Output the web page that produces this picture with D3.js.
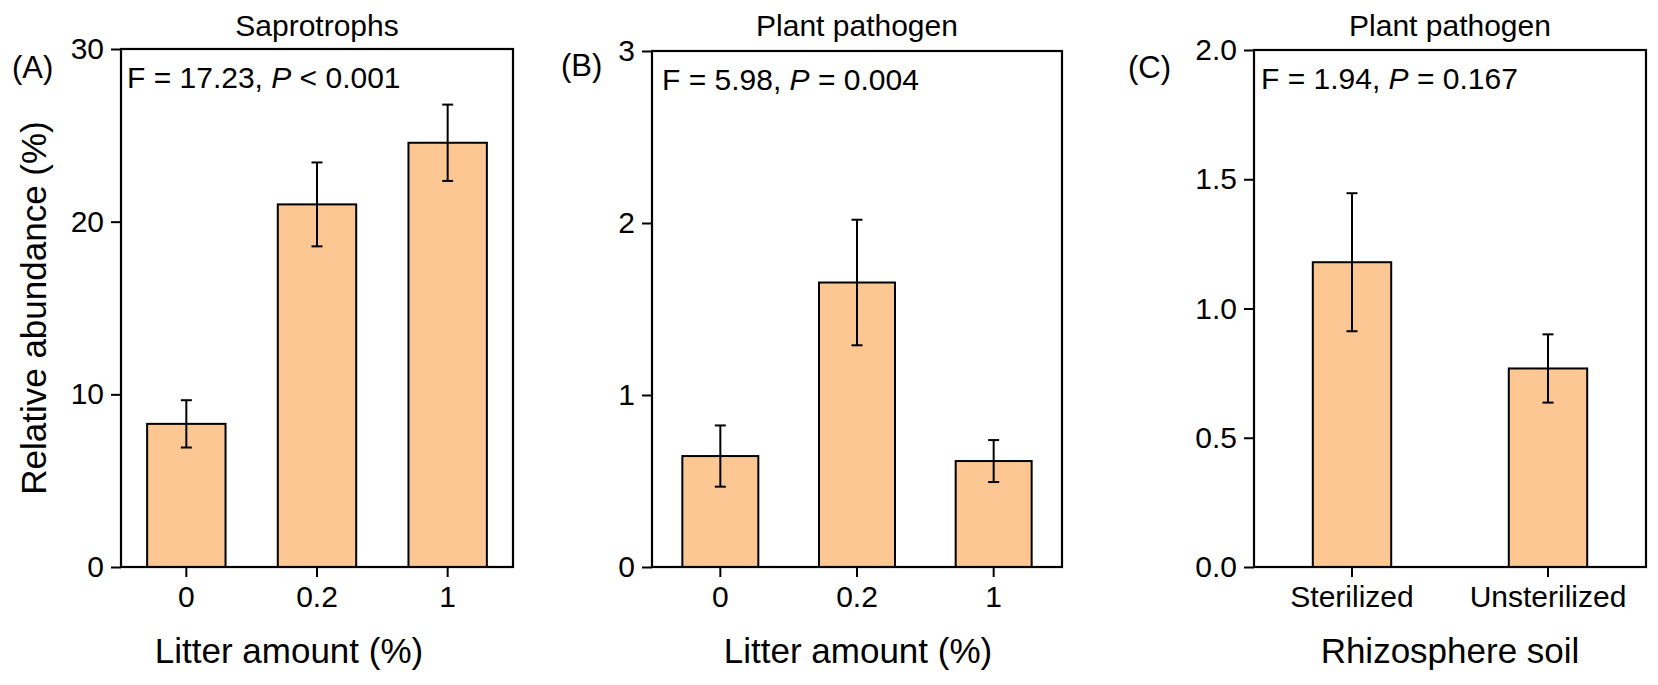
<!DOCTYPE html>
<html>
<head>
<meta charset="utf-8">
<script src="https://cdn.jsdelivr.net/npm/d3@7"></script>
<style>
  body { margin: 0; background: #fff; }
  svg text { font-family: Arial, "Liberation Sans", Helvetica, sans-serif; fill: #000; }
</style>
</head>
<body>
<svg id="chart" width="1658" height="685"></svg>
<script>
// Data (means and standard errors)
const litterLevels = ["0", "0.2", "1"];
const soilTypes = ["Sterilized", "Unsterilized"];

const saproMean = [8.29, 21.0, 24.57];
const saproSE = [1.37, 2.43, 2.21];

const pathLitterMean = [0.645, 1.654, 0.616];
const pathLitterSE = [0.178, 0.365, 0.122];

const pathSoilMean = [1.179, 0.768];
const pathSoilSE = [0.267, 0.132];

const saproTicks = [0, 10, 20, 30];
const pathLitterTicks = [0, 1, 2, 3];
const pathSoilTicks = [0, 0.5, 1, 1.5, 2];

const svg = d3.select("#chart");
const barFill = "#fdc793";

function drawPanel(p) {
  const x = d3.scaleBand()
    .domain(p.cats)
    .range([p.left, p.right])
    .paddingInner(p.pad)
    .paddingOuter(p.pad / 2);

  const y = d3.scaleLinear()
    .domain([0, p.ymax])
    .range([p.bottom, p.top]);

  const rows = p.cats.map((c, i) => ({ cat: c, mean: p.mean[i], se: p.se[i] }));
  const cx = d => x(d.cat) + x.bandwidth() / 2;
  const g = svg.append("g");

  // bars
  g.selectAll(".bar")
    .data(rows)
    .join("rect")
    .attr("class", "bar")
    .attr("x", d => x(d.cat))
    .attr("y", d => y(d.mean))
    .attr("width", x.bandwidth())
    .attr("height", d => y(0) - y(d.mean))
    .attr("fill", barFill)
    .attr("stroke", "#000")
    .attr("stroke-width", 2);

  // error bars
  g.selectAll(".err")
    .data(rows)
    .join("line")
    .attr("class", "err")
    .attr("x1", cx).attr("x2", cx)
    .attr("y1", d => y(d.mean + d.se))
    .attr("y2", d => y(d.mean - d.se))
    .attr("stroke", "#000")
    .attr("stroke-width", 2);

  const caps = rows.flatMap(d => [
    { d, v: d.mean + d.se },
    { d, v: d.mean - d.se }
  ]);
  g.selectAll(".cap")
    .data(caps)
    .join("line")
    .attr("class", "cap")
    .attr("x1", c => cx(c.d) - 5.5)
    .attr("x2", c => cx(c.d) + 5.5)
    .attr("y1", c => y(c.v))
    .attr("y2", c => y(c.v))
    .attr("stroke", "#000")
    .attr("stroke-width", 2);

  // axes
  const yAxis = g.append("g")
    .attr("transform", `translate(${p.left},0)`)
    .call(d3.axisLeft(y).tickValues(p.ticks).tickFormat(p.fmt).tickSize(10).tickPadding(7));

  const xAxis = g.append("g")
    .attr("transform", `translate(0,${p.bottom})`)
    .call(d3.axisBottom(x).tickSize(10).tickPadding(9));

  [yAxis, xAxis].forEach(a => {
    a.select(".domain").remove();
    a.selectAll(".tick line").attr("stroke", "#000").attr("stroke-width", 2);
    a.selectAll(".tick text").attr("font-size", 30).attr("fill", "#000")
      .style("font-family", 'Arial, "Liberation Sans", sans-serif');
  });

  // frame box
  g.append("rect")
    .attr("x", p.left)
    .attr("y", p.top)
    .attr("width", p.right - p.left)
    .attr("height", p.bottom - p.top)
    .attr("fill", "none")
    .attr("stroke", "#000")
    .attr("stroke-width", 2.2);

  // title
  g.append("text")
    .attr("x", (p.left + p.right) / 2)
    .attr("y", 36)
    .attr("text-anchor", "middle")
    .attr("font-size", 30)
    .text(p.title);

  // statistics
  const stat = g.append("text")
    .attr("x", p.left + p.statDx)
    .attr("y", p.top + 39)
    .attr("font-size", 30)
    .style("white-space", "pre");
  stat.append("tspan").text(p.statF + ", ");
  stat.append("tspan").attr("font-style", "italic").text("P");
  stat.append("tspan").text(p.statP);

  // panel letter
  g.append("text")
    .attr("x", p.letterX)
    .attr("y", p.letterY)
    .attr("font-size", 31)
    .text(p.letter);

  // x title
  g.append("text")
    .attr("x", p.xTitleX)
    .attr("y", 663)
    .attr("text-anchor", "middle")
    .attr("font-size", 35)
    .text(p.xTitle);
}

drawPanel({
  cats: litterLevels, mean: saproMean, se: saproSE,
  ticks: saproTicks, fmt: d3.format("d"), ymax: 30,
  left: 121, right: 513, top: 49, bottom: 567, pad: 0.4,
  title: "Saprotrophs", statF: "F = 17.23", statP: " < 0.001", statDx: 6,
  letter: "(A)", letterX: 12, letterY: 78,
  xTitle: "Litter amount (%)", xTitleX: 289
});

drawPanel({
  cats: litterLevels, mean: pathLitterMean, se: pathLitterSE,
  ticks: pathLitterTicks, fmt: d3.format("d"), ymax: 3,
  left: 652, right: 1062, top: 51, bottom: 567, pad: 0.444,
  title: "Plant pathogen", statF: "F = 5.98", statP: " = 0.004", statDx: 10,
  letter: "(B)", letterX: 561, letterY: 76,
  xTitle: "Litter amount (%)", xTitleX: 858
});

drawPanel({
  cats: soilTypes, mean: pathSoilMean, se: pathSoilSE,
  ticks: pathSoilTicks, fmt: d3.format(".1f"), ymax: 2,
  left: 1254, right: 1646, top: 50, bottom: 567, pad: 0.6,
  title: "Plant pathogen", statF: "F = 1.94", statP: " = 0.167", statDx: 7,
  letter: "(C)", letterX: 1128, letterY: 78,
  xTitle: "Rhizosphere soil", xTitleX: 1450
});

// shared y-axis title
svg.append("text")
  .attr("transform", "translate(46,308) rotate(-90)")
  .attr("text-anchor", "middle")
  .attr("font-size", 35)
  .text("Relative abundance (%)");
</script>
</body>
</html>
